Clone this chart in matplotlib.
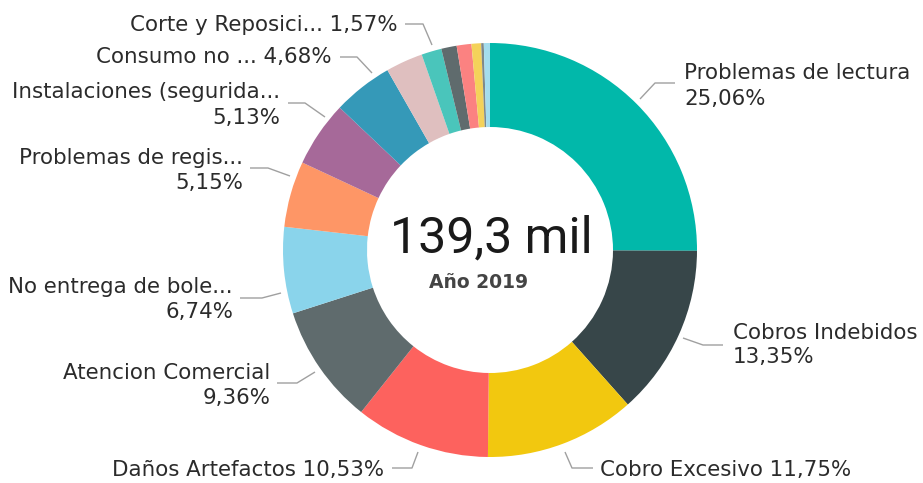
import matplotlib
matplotlib.use("Agg")
from matplotlib import pyplot as plt

# chart data (percent of 139,3 mil cases, year 2019), clockwise from the top
categories = ["Problemas de lectura", "Cobros Indebidos", "Cobro Excesivo",
              "Daños Artefactos", "Atencion Comercial", "No entrega de bole...",
              "Problemas de regis...", "Instalaciones (segurida...", "Consumo no ...",
              "", "Corte y Reposici...", "", "", "", "", ""]
values = [25.06, 13.35, 11.75, 10.53, 9.36, 6.74, 5.15, 5.13, 4.68,
          2.90, 1.57, 1.20, 1.15, 0.75, 0.20, 0.48]
colors = ["#01B8AA", "#374649", "#F2C80F", "#FD625E", "#5F6B6D", "#8AD4EB",
          "#FE9666", "#A66999", "#3599B8", "#DFBFBF", "#4AC5BB", "#5F6B6D",
          "#FB8281", "#F4D25A", "#7F898A", "#A4DDEE"]
total_label = "139,3 mil"
subtitle = "Año 2019"

# label layout in pixels: (index, start, elbow, end_x, text_x, align, line ys, one_line)
layout = [
    (0, (640, 99), (655, 83), 675, 684, "left", (73, 99), False),
    (1, (683, 338), (703, 345), 723, 733, "left", (333, 357), False),
    (2, (565, 452), (572, 468), 593, 600, "left", (470,), True),
    (3, (418, 452), (412, 468), 392, 384, "right", (470,), True),
    (4, (315, 372), (297, 383), 277, 270, "right", (373, 398), False),
    (5, (281, 293), (262, 298), 240, 233, "right", (287, 312), False),
    (6, (290, 176), (268, 168), 250, 243, "right", (158, 183), False),
    (7, (325, 117), (305, 103), 288, 280, "right", (92, 118), False),
    (8, (372, 73), (357, 57), 340, 332, "right", (57,), True),
    (10, (432, 45), (423, 24), 405, 397, "right", (25,), True),
]

W, H = 923, 483
text_color = "#2b2b2b"
line_color = "#A0A0A0"


def pct(v):
    return f"{v:.2f}".replace(".", ",") + "%"


def main():
    fig = plt.figure(figsize=(W / 100, H / 100), dpi=100)
    ax = fig.add_axes([0, 0, 1, 1])

    # y axis is flipped below, so counterclock=True runs clockwise on screen
    ax.pie(values, colors=colors, startangle=-90, counterclock=True,
           center=(490, 250), radius=207,
           wedgeprops=dict(width=84, linewidth=0))

    ax.set_xlim(0, W)
    ax.set_ylim(H, 0)
    ax.set_aspect("equal")
    ax.axis("off")

    for i, start, elbow, end_x, tx, align, ys, one_line in layout:
        ax.plot([start[0], elbow[0], end_x], [start[1], elbow[1], elbow[1]],
                color=line_color, lw=1.0, solid_capstyle="butt")
        if one_line:
            lines = [categories[i] + " " + pct(values[i])]
        else:
            lines = [categories[i], pct(values[i])]
        for txt, y in zip(lines, ys):
            ax.text(tx, y, txt, ha=align, va="center", fontsize=15.4,
                    color=text_color, family="DejaVu Sans")

    ax.text(491, 238, total_label, ha="center", va="center", fontsize=36,
            color="#1a1a1a", family="Roboto")
    ax.text(479, 282, subtitle, ha="center", va="center", fontsize=13.5,
            fontweight="bold", color="#444444", family="DejaVu Sans")

    fig.savefig("out.png", dpi=100)


if __name__ == '__main__':
    main()
